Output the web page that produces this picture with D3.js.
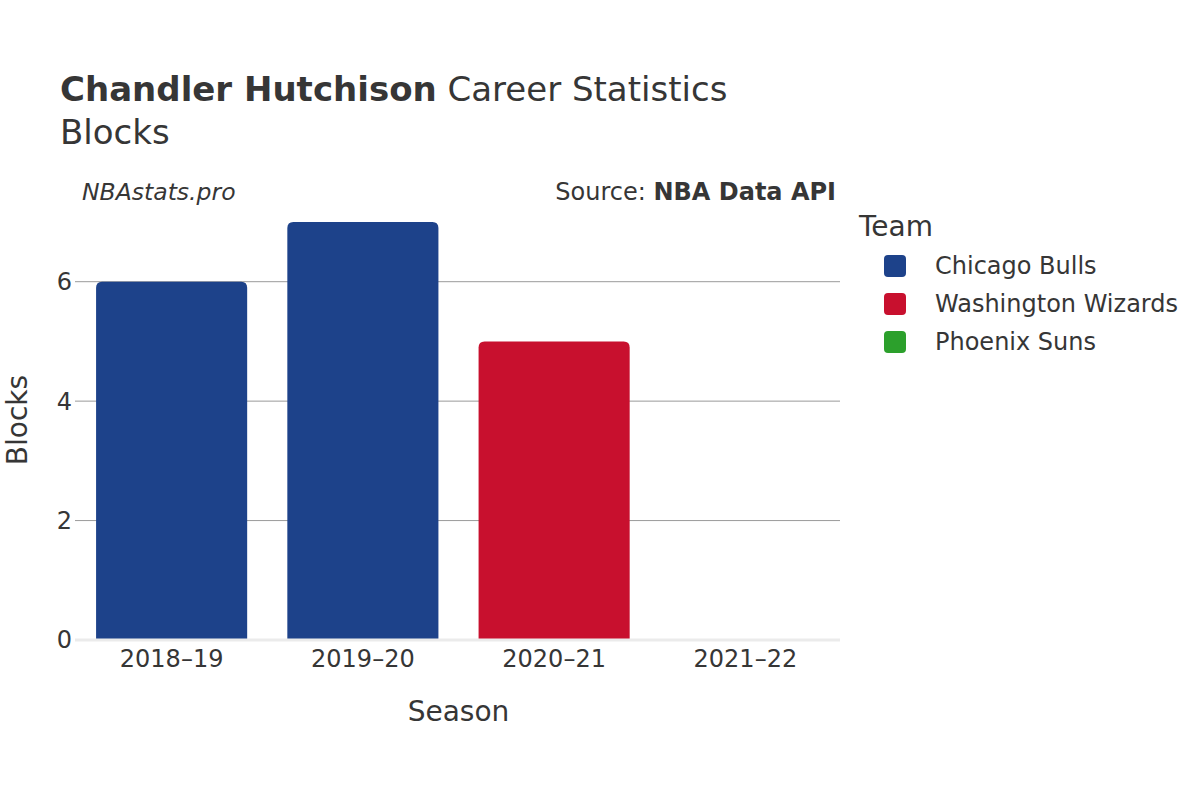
<!DOCTYPE html>
<html>
<head>
<meta charset="utf-8">
<script src="https://cdn.jsdelivr.net/npm/d3@7"></script>
<style>
  body { margin: 0; background: #fff; }
  svg { font-family: "DejaVu Sans", sans-serif; }
</style>
</head>
<body>
<svg id="chart" width="1200" height="800"></svg>
<script>
const seasons = ["2018–19", "2019–20", "2020–21", "2021–22"];
const teams = ["Chicago Bulls", "Washington Wizards", "Phoenix Suns"];
const teamColors = ["#1d428a", "#c8102e", "#2ca02c"];
const barSeason = ["2018–19", "2019–20", "2020–21", "2021–22"];
const barTeam = ["Chicago Bulls", "Chicago Bulls", "Washington Wizards", "Phoenix Suns"];
const barValue = [6, 7, 5, 0];
const yTicks = [0, 2, 4, 6];

(function () {
const svg = d3.select("#chart");
const pLeft = 76, pRight = 841, pTop = 200, pBottom = 640;
const textColor = "#363636";

const x = d3.scaleBand().domain(seasons).range([pLeft, pRight]).paddingInner(0.21).paddingOuter(0.105);
const y = d3.scaleLinear().domain([0, 7.368]).range([pBottom, pTop]);
const color = d3.scaleOrdinal().domain(teams).range(teamColors);

// grid
svg.append("g").selectAll("line").data(yTicks.filter(d => d !== 0)).join("line")
  .attr("x1", pLeft - 1).attr("x2", pRight - 1)
  .attr("y1", d => y(d)).attr("y2", d => y(d))
  .attr("stroke", "#9a9a9a").attr("stroke-width", 1);

// bars
const bars = barValue.map((v, i) => ({ season: barSeason[i], team: barTeam[i], value: v }));
const r = 6;
svg.append("g").selectAll("path").data(bars.filter(d => d.value > 0)).join("path")
  .attr("d", d => {
    const x0 = x(d.season), w = x.bandwidth(), y0 = y(d.value), y1 = y(0);
    return `M${x0},${y1} L${x0},${y0 + r} Q${x0},${y0} ${x0 + r},${y0} L${x0 + w - r},${y0} Q${x0 + w},${y0} ${x0 + w},${y0 + r} L${x0 + w},${y1} Z`;
  })
  .attr("fill", d => color(d.team));

// zero line
svg.append("line").attr("x1", pLeft - 1).attr("x2", pRight - 1)
  .attr("y1", y(0)).attr("y2", y(0))
  .attr("stroke", "#ebebeb").attr("stroke-width", 3);

// y tick labels
svg.append("g").selectAll("text").data(yTicks).join("text")
  .attr("x", pLeft - 4).attr("y", d => y(d)).attr("dy", "0.35em")
  .attr("text-anchor", "end").attr("font-size", 24).attr("fill", textColor)
  .text(d => d);

// x tick labels
svg.append("g").selectAll("text").data(seasons).join("text")
  .attr("x", d => x(d) + x.bandwidth() / 2).attr("y", 667)
  .attr("text-anchor", "middle").attr("font-size", 24).attr("fill", textColor)
  .text(d => d);

// axis titles
svg.append("text").attr("x", (pLeft + pRight) / 2).attr("y", 721)
  .attr("text-anchor", "middle").attr("font-size", 28).attr("fill", textColor).text("Season");
svg.append("text").attr("transform", `translate(27,${(pTop + pBottom) / 2}) rotate(-90)`)
  .attr("text-anchor", "middle").attr("font-size", 28).attr("fill", textColor).text("Blocks");

// title
const t = svg.append("text").attr("x", 60).attr("y", 101).attr("font-size", 34).attr("fill", textColor);
t.append("tspan").attr("font-weight", "bold").text("Chandler Hutchison");
t.append("tspan").text(" Career Statistics");
svg.append("text").attr("x", 60).attr("y", 144).attr("font-size", 34).attr("fill", textColor).text("Blocks");

// annotations
svg.append("text").attr("x", 82).attr("y", 200).attr("font-size", 23.5).attr("font-style", "italic")
  .attr("fill", textColor).text("NBAstats.pro");
const s = svg.append("text").attr("x", 836).attr("y", 200).attr("text-anchor", "end")
  .attr("font-size", 24).attr("fill", textColor);
s.append("tspan").text("Source: ");
s.append("tspan").attr("font-weight", "bold").text("NBA Data API");

// legend
svg.append("text").attr("x", 859).attr("y", 236).attr("font-size", 28).attr("fill", textColor).text("Team");
const lg = svg.append("g").selectAll("g").data(teams).join("g")
  .attr("transform", (d, i) => `translate(884,${266 + i * 38})`);
lg.append("rect").attr("x", 0).attr("y", -11).attr("width", 22).attr("height", 22).attr("rx", 4)
  .attr("fill", d => color(d));
lg.append("text").attr("x", 51).attr("y", 0).attr("dy", "0.35em").attr("font-size", 24)
  .attr("fill", textColor).text(d => d);
})();
</script>
</body>
</html>
